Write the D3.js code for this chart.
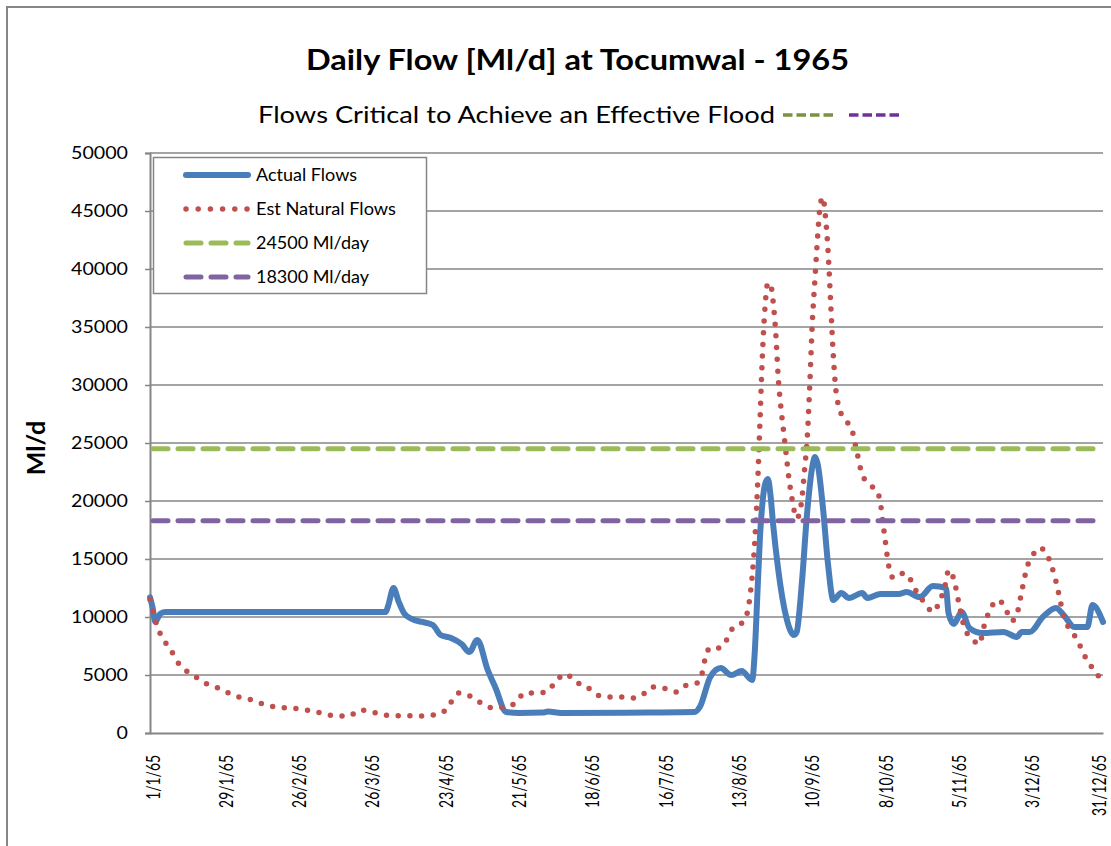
<!DOCTYPE html>
<html>
<head>
<meta charset="utf-8">
<script src="https://cdn.jsdelivr.net/npm/d3@7"></script>
<style>
  body { margin: 0; background: #fff; }
  svg { display: block; font-family: Lato, "Open Sans", sans-serif; }
</style>
</head>
<body>
<div id="chart"></div>
<script>
// Data: day of 1965 (0 = 1 Jan) and flow in Ml/d

const actualDays = [0, 1, 2, 4, 6, 90, 91, 93, 95, 97, 100, 104, 108, 111, 115, 119, 122, 125, 129, 132,
  136, 141, 150, 152, 157, 190, 208, 210, 214, 218, 222, 226, 230, 231, 232, 233, 234, 235, 236, 237,
  238, 240, 243, 246, 247, 249, 251, 253, 254, 255, 257, 259, 261, 264, 267, 272, 274, 279, 286, 289,
  294, 299, 304, 305, 307, 310, 313, 318, 326, 331, 333, 336, 341, 346, 349, 353, 358, 360, 364];
const actualFlows = [11700, 10800, 9600, 10300, 10430, 10430, 11000, 12500, 11300, 10340, 9830, 9570, 9310, 8450, 8190, 7670, 6980, 8020, 5430, 3880,
  1810, 1720, 1760, 1850, 1720, 1760, 1800, 2240, 4830, 5600, 5000, 5340, 4570, 7000, 12000, 17000, 20000, 21500, 21900, 20500,
  18000, 14000, 10000, 8450, 8700, 13000, 19000, 23000, 23790, 23200, 19500, 14500, 11460, 12070, 11640, 12070, 11640, 11980, 11980, 12150,
  11720, 12670, 12500, 10340, 9400, 10430, 9050, 8620, 8710, 8280, 8710, 8710, 10000, 10780, 10170, 9140, 9140, 11030, 9570];

const naturalDays = [0, 1, 3, 5, 8, 10, 13, 17, 21, 26, 30, 34, 39, 43, 48, 53, 57, 62, 67, 71,
  76, 80, 85, 89, 94, 104, 108, 112, 115, 118, 123, 127, 131, 136, 140, 143, 148, 152, 155, 159,
  162, 167, 170, 175, 180, 184, 188, 192, 196, 201, 205, 209, 211, 212, 214, 217, 220, 222, 226, 228,
  229, 230, 231, 232, 233, 234, 235, 236, 237, 238, 239, 240, 241, 242, 243, 244, 245, 246, 247, 248,
  249, 250, 251, 252, 253, 254, 255, 256, 257, 258, 259, 260, 261, 262, 263, 264, 265, 268, 270, 272,
  275, 278, 279, 280, 281, 282, 284, 288, 291, 293, 296, 299, 301, 304, 305, 307, 309, 311, 314, 317,
  318, 321, 324, 327, 329, 331, 333, 335, 337, 340, 343, 346, 348, 349, 351, 354, 356, 358, 361, 364];
const naturalFlows = [11500, 10600, 9050, 8100, 7150, 6290, 5520, 4910, 4310, 3880, 3450, 3100, 2840, 2500, 2240, 2160, 2070, 1900, 1640, 1470,
  1470, 1980, 1810, 1550, 1500, 1470, 1550, 1810, 2670, 3450, 3100, 2500, 2160, 2240, 2670, 3450, 3450, 3620, 4480, 5090,
  4480, 3970, 3360, 3100, 3100, 3020, 3280, 3970, 3880, 3540, 4140, 4310, 5260, 6380, 7330, 7330, 7930, 8880, 9480, 10260,
  11500, 13500, 16500, 21000, 27000, 33000, 37000, 38800, 38700, 37200, 34500, 30500, 28000, 26000, 24000, 22000, 20500, 19200, 18500, 18900,
  20200, 22700, 25300, 30000, 35500, 39200, 42800, 45500, 46200, 44500, 41500, 37000, 32500, 29500, 28200, 27500, 27100, 26200, 24220, 22300,
  21400, 20690, 19800, 18000, 16300, 14600, 13360, 13790, 13020, 12070, 11210, 10430, 11030, 13020, 14050, 13270, 11120, 9140, 8100, 7670,
  8710, 10690, 11460, 10600, 9650, 10170, 12240, 14310, 15260, 15950, 15170, 13100, 11030, 10000, 9050, 8100, 7150, 6210, 5340, 4300];

const thresholds = [24500, 18300];
const thresholdNames = ["24500 Ml/day", "18300 Ml/day"];
const seriesNames = ["Actual Flows", "Est Natural Flows"];
const yTicks = d3.range(0, 50001, 5000);
const xTickDays = d3.range(0, 365, 28);

// Layout

const width = 1111;
const height = 846;
const plot = { left: 150, right: 1103, top: 153, bottom: 733 };

const colors = {
  actual: "#4a7ebb",
  natural: "#c0504d",
  green: "#9bbb59",
  purple: "#8064a2",
  grid: "#868686"
};

const dayToDate = d => new Date(Date.UTC(1965, 0, 1 + d));

const svg = d3.select("#chart")
  .append("svg")
  .attr("width", width)
  .attr("height", height)
  .attr("viewBox", [0, 0, width, height]);

// outer chart border
svg.append("rect")
  .attr("x", 7).attr("y", 7)
  .attr("width", width + 10).attr("height", height + 10)
  .attr("fill", "none")
  .attr("stroke", colors.grid)
  .attr("stroke-width", 2);

const x = d3.scaleUtc()
  .domain([dayToDate(0), dayToDate(364)])
  .range([plot.left, plot.right]);

const y = d3.scaleLinear()
  .domain([0, 50000])
  .range([plot.bottom, plot.top]);

// Gridlines
svg.append("g")
  .selectAll("line")
  .data(yTicks.filter(d => d > 0))
  .join("line")
  .attr("x1", plot.left)
  .attr("x2", plot.right)
  .attr("y1", d => y(d))
  .attr("y2", d => y(d))
  .attr("stroke", colors.grid)
  .attr("stroke-width", 1.5);

// Y axis
svg.append("g")
  .attr("transform", `translate(${plot.left},0)`)
  .call(d3.axisLeft(y).tickValues(yTicks).tickSize(5).tickPadding(17).tickFormat(d3.format("d")))
  .call(g => g.select(".domain").attr("stroke", colors.grid).attr("stroke-width", 2))
  .call(g => g.selectAll(".tick line").attr("stroke", colors.grid).attr("stroke-width", 1.5))
  .call(g => g.selectAll(".tick text")
    .attr("font-family", "Lato, sans-serif")
    .attr("font-size", 18)
    .attr("fill", "#000")
    .attr("textLength", function () { return this.textContent.length * 11.4; })
    .attr("lengthAdjust", "spacingAndGlyphs"));

// X axis: rotated labels, glyphs a bit widened like the original
const labelLength = s => s.split("").reduce((sum, c) => sum + (c === "/" ? 6.2 : 8.1), 0);

svg.append("g")
  .attr("transform", `translate(0,${plot.bottom})`)
  .call(d3.axisBottom(x).tickValues(xTickDays.map(dayToDate)).tickSize(0).tickFormat(d3.utcFormat("%-d/%-m/%y")))
  .call(g => g.select(".domain").attr("stroke", colors.grid).attr("stroke-width", 2))
  .call(g => g.selectAll(".tick text")
    .attr("font-family", "Lato, sans-serif")
    .attr("font-size", 16)
    .attr("fill", "#000")
    .attr("text-anchor", "end")
    .attr("dy", null)
    .attr("x", 0).attr("y", 0)
    .attr("textLength", function () { return labelLength(this.textContent); })
    .attr("lengthAdjust", "spacingAndGlyphs")
    .attr("transform", (d, i) => `translate(${i === xTickDays.length - 1 ? 2 : 9},22) rotate(-90) scale(1,1.2)`));

// Lines
const line = d3.line()
  .x(d => x(dayToDate(d[0])))
  .y(d => y(d[1]))
  .curve(d3.curveMonotoneX);

svg.append("path")
  .datum(d3.zip(actualDays, actualFlows))
  .attr("d", line)
  .attr("fill", "none")
  .attr("stroke", colors.actual)
  .attr("stroke-width", 6)
  .attr("stroke-linejoin", "round")
  .attr("stroke-linecap", "round");

svg.append("path")
  .datum(d3.zip(naturalDays, naturalFlows))
  .attr("d", line)
  .attr("fill", "none")
  .attr("stroke", colors.natural)
  .attr("stroke-width", 5.5)
  .attr("stroke-dasharray", "0 11.7")
  .attr("stroke-linecap", "round");

svg.append("g")
  .selectAll("line")
  .data(thresholds)
  .join("line")
  .attr("x1", plot.left + 3)
  .attr("x2", plot.right)
  .attr("y1", d => y(d))
  .attr("y2", d => y(d))
  .attr("stroke", (d, i) => i === 0 ? colors.green : colors.purple)
  .attr("stroke-width", 5)
  .attr("stroke-dasharray", "15 10")
  .attr("stroke-linecap", "round");

// Legend
const legend = svg.append("g");
legend.append("rect")
  .attr("x", 153.5).attr("y", 157.5)
  .attr("width", 273).attr("height", 136)
  .attr("fill", "#fff")
  .attr("stroke", colors.grid)
  .attr("stroke-width", 1.5);

const legendItems = [
  { name: seriesNames[0], color: colors.actual, dash: null, w: 6, len: 101 },
  { name: seriesNames[1], color: colors.natural, dash: "0 12.2", w: 5.5, len: 140 },
  { name: thresholdNames[0], color: colors.green, dash: "15 10", w: 5, len: 113 },
  { name: thresholdNames[1], color: colors.purple, dash: "15 10", w: 5, len: 113 }
];

legendItems.forEach((item, i) => {
  const ly = 175 + i * 34;
  legend.append("line")
    .attr("x1", 186).attr("x2", 248)
    .attr("y1", ly).attr("y2", ly)
    .attr("stroke", item.color)
    .attr("stroke-width", item.w)
    .attr("stroke-linecap", "round")
    .attr("stroke-dasharray", item.dash);
  legend.append("text")
    .attr("x", 256).attr("y", ly + 6)
    .attr("font-size", 17)
    .attr("textLength", item.len)
    .attr("lengthAdjust", "spacingAndGlyphs")
    .text(item.name);
});

// Titles
svg.append("text")
  .attr("x", 306).attr("y", 70)
  .attr("font-size", 28)
  .attr("font-weight", "bold")
  .attr("textLength", 543)
  .attr("lengthAdjust", "spacingAndGlyphs")
  .text("Daily Flow [Ml/d] at Tocumwal - 1965");

svg.append("text")
  .attr("x", 258).attr("y", 123)
  .attr("font-size", 24)
  .attr("textLength", 517)
  .attr("lengthAdjust", "spacingAndGlyphs")
  .text("Flows Critical to Achieve an Effective Flood");

[[783, "#77933c"], [849, "#7030a0"]].forEach(([x0, c]) => {
  svg.append("line")
    .attr("x1", x0).attr("x2", x0 + 50)
    .attr("y1", 115).attr("y2", 115)
    .attr("stroke", c)
    .attr("stroke-width", 3.5)
    .attr("stroke-dasharray", "9.5 4");
});

svg.append("text")
  .attr("transform", "translate(45,448) rotate(-90)")
  .attr("text-anchor", "middle")
  .attr("font-size", 25)
  .attr("font-weight", "bold")
  .text("Ml/d");
</script>
</body>
</html>
